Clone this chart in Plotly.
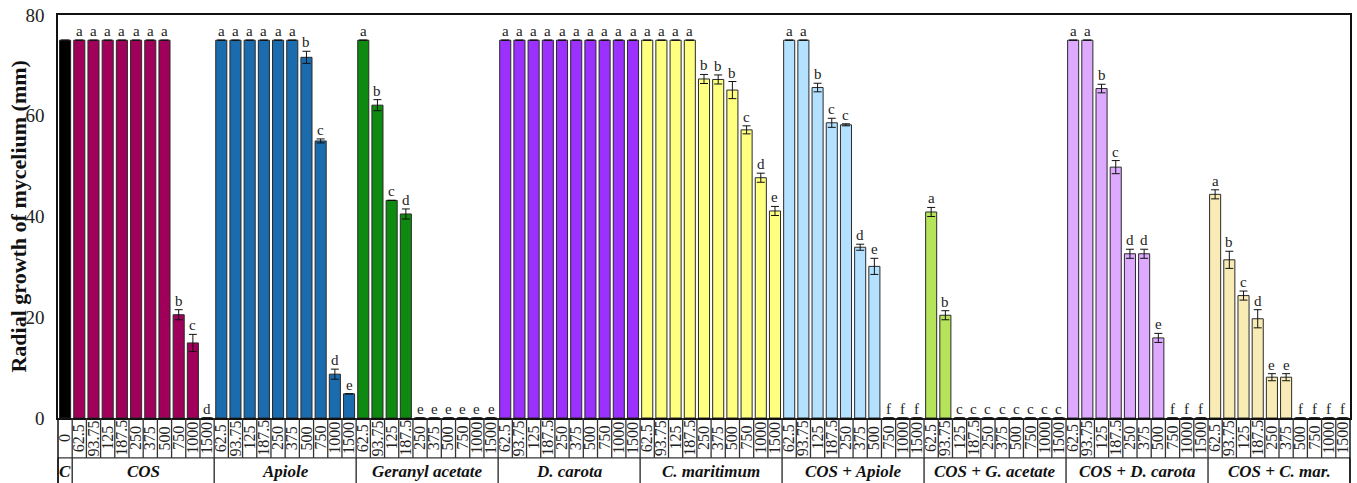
import plotly.graph_objects as go

# ---------------- data ----------------
concentrations = ["62.5", "93.75", "125", "187.5", "250", "375", "500", "750", "1000", "1500"]
groups = ["COS", "Apiole", "Geranyl acetate", "D. carota", "C. maritimum",
          "COS + Apiole", "COS + G. acetate", "COS + D. carota", "COS + C. mar."]
colors = ["#A0005A", "#1A6CAE", "#0F8A10", "#9B30FF", "#FFFF80",
          "#B3E1FF", "#B5E35A", "#DDAAFF", "#F8EBB5"]

control_label = "C"
control_tick = "0"
control_value = 75
control_err = 0
control_color = "#000000"

cos_vals = [75, 75, 75, 75, 75, 75, 75, 20.5, 14.9, 0]
cos_err = [0, 0, 0, 0, 0, 0, 0, 1.0, 1.7, 0]
cos_let = ["a", "a", "a", "a", "a", "a", "a", "b", "c", "d"]

apiole_vals = [75, 75, 75, 75, 75, 75, 71.6, 55.0, 8.7, 4.8]
apiole_err = [0, 0, 0, 0, 0, 0, 1.2, 0.4, 1.0, 0]
apiole_let = ["a", "a", "a", "a", "a", "a", "b", "c", "d", "e"]

geranyl_vals = [75, 62.1, 43.2, 40.5, 0, 0, 0, 0, 0, 0]
geranyl_err = [0, 1.1, 0, 1.0, 0, 0, 0, 0, 0, 0]
geranyl_let = ["a", "b", "c", "d", "e", "e", "e", "e", "e", "e"]

dcarota_vals = [75, 75, 75, 75, 75, 75, 75, 75, 75, 75]
dcarota_err = [0, 0, 0, 0, 0, 0, 0, 0, 0, 0]
dcarota_let = ["a", "a", "a", "a", "a", "a", "a", "a", "a", "a"]

cmar_vals = [75, 75, 75, 75, 67.3, 67.2, 65.1, 57.2, 47.7, 41.1]
cmar_err = [0, 0, 0, 0, 0.9, 0.9, 1.7, 0.8, 0.9, 0.9]
cmar_let = ["a", "a", "a", "a", "b", "b", "b", "c", "d", "e"]

cos_api_vals = [75, 75, 65.6, 58.6, 58.2, 33.9, 30.1, 0, 0, 0]
cos_api_err = [0, 0, 0.85, 0.9, 0.2, 0.6, 1.6, 0, 0, 0]
cos_api_let = ["a", "a", "b", "c", "c", "d", "e", "f", "f", "f"]

cos_ga_vals = [40.9, 20.4, 0, 0, 0, 0, 0, 0, 0, 0]
cos_ga_err = [0.9, 0.9, 0, 0, 0, 0, 0, 0, 0, 0]
cos_ga_let = ["a", "b", "c", "c", "c", "c", "c", "c", "c", "c"]

cos_dc_vals = [75, 75, 65.4, 49.8, 32.6, 32.6, 15.9, 0, 0, 0]
cos_dc_err = [0, 0, 0.85, 1.3, 0.9, 0.9, 0.9, 0, 0, 0]
cos_dc_let = ["a", "a", "b", "c", "d", "d", "e", "f", "f", "f"]

cos_cm_vals = [44.4, 31.4, 24.3, 19.7, 8.1, 8.1, 0, 0, 0, 0]
cos_cm_err = [0.9, 1.7, 0.9, 1.8, 0.7, 0.7, 0, 0, 0, 0]
cos_cm_let = ["a", "b", "c", "d", "e", "e", "f", "f", "f", "f"]

group_vals = [cos_vals, apiole_vals, geranyl_vals, dcarota_vals, cmar_vals,
              cos_api_vals, cos_ga_vals, cos_dc_vals, cos_cm_vals]
group_errs = [cos_err, apiole_err, geranyl_err, dcarota_err, cmar_err,
              cos_api_err, cos_ga_err, cos_dc_err, cos_cm_err]
group_lets = [cos_let, apiole_let, geranyl_let, dcarota_let, cmar_let,
              cos_api_let, cos_ga_let, cos_dc_let, cos_cm_let]

# ---------------- figure ----------------
SERIF = "Liberation Serif, Times New Roman, serif"
n_per = len(concentrations)
n_total = 1 + n_per * len(groups)

FIG_W, FIG_H = 1357, 483
M_L, M_R, M_T, M_B = 58, 5, 14, 65
plot_w = FIG_W - M_L - M_R
plot_h = FIG_H - M_T - M_B

fig = go.Figure()

err_style = dict(type="data", thickness=1, width=4, color="#111111")

fig.add_trace(go.Bar(
    x=[0], y=[control_value],
    error_y=dict(array=[control_err], **err_style),
    marker=dict(color=control_color, line=dict(color="#222222", width=1)),
    width=0.78, showlegend=False, hoverinfo="skip"))

annotations = []
for g, (name, vals, errs, lets, col) in enumerate(zip(groups, group_vals, group_errs, group_lets, colors)):
    xs = [1 + g * n_per + k for k in range(n_per)]
    fig.add_trace(go.Bar(
        x=xs, y=vals,
        error_y=dict(array=errs, **err_style),
        marker=dict(color=col, line=dict(color="#2a2a2a", width=1)),
        width=0.78, showlegend=False, name=name, hoverinfo="skip"))
    for x, v, e, l in zip(xs, vals, errs, lets):
        annotations.append(dict(x=x, y=v + e, xref="x", yref="y", text=l, showarrow=False,
                                yanchor="bottom", xanchor="center", yshift=-1,
                                font=dict(family=SERIF, size=15, color="#222222")))

row1 = 40 / plot_h
row2 = M_B / plot_h


def xp(pos):
    return (pos + 0.5) / n_total


# tick labels (rotated) in first row
tick_texts = [control_tick] + concentrations * len(groups)
for i, t in enumerate(tick_texts):
    annotations.append(dict(x=xp(i), y=-row1 / 2, xref="paper", yref="paper", text=t,
                            showarrow=False, textangle=-90, xanchor="center", yanchor="middle",
                            font=dict(family=SERIF, size=16, color="#222222")))

# group labels second row
ylab = -(row1 + row2) / 2 - 0.003
annotations.append(dict(x=xp(0), y=ylab, xref="paper", yref="paper",
                        text="<b><i>" + control_label + "</i></b>", showarrow=False,
                        xanchor="center", yanchor="middle",
                        font=dict(family=SERIF, size=17, color="#111111")))
for g, name in enumerate(groups):
    c = 1 + g * n_per + (n_per - 1) / 2
    annotations.append(dict(x=xp(c), y=ylab, xref="paper", yref="paper",
                            text="<b><i>" + name + "</i></b>", showarrow=False,
                            xanchor="center", yanchor="middle",
                            font=dict(family=SERIF, size=17, color="#111111")))

# y-axis title
annotations.append(dict(x=-40 / plot_w, y=0.5, xref="paper", yref="paper",
                        text="<b>Radial growth of mycelium (mm)</b>", showarrow=False,
                        textangle=-90, xanchor="center", yanchor="middle",
                        font=dict(family=SERIF, size=22, color="#111111")))

shapes = []
for i in range(1, n_total):
    shapes.append(dict(type="line", xref="paper", yref="paper", x0=i / n_total, x1=i / n_total,
                       y0=0, y1=-row1, line=dict(color="#333333", width=1.3)))
shapes.append(dict(type="line", xref="paper", yref="paper", x0=0, x1=1, y0=-row1, y1=-row1,
                   line=dict(color="#333333", width=1.3)))
bounds = [0, 1] + [1 + (g + 1) * n_per for g in range(len(groups))]
for b in bounds:
    shapes.append(dict(type="line", xref="paper", yref="paper", x0=b / n_total, x1=b / n_total,
                       y0=-row1, y1=-row2 - 0.05, line=dict(color="#222222", width=1.3)))
for b in [0, 1]:
    shapes.append(dict(type="line", xref="paper", yref="paper", x0=b, x1=b,
                       y0=0, y1=-row2 - 0.05, line=dict(color="#111111", width=1.5)))

fig.update_layout(
    width=FIG_W, height=FIG_H,
    margin=dict(l=M_L, r=M_R, t=M_T, b=M_B),
    paper_bgcolor="white", plot_bgcolor="white",
    barmode="overlay",
    showlegend=False,
    annotations=annotations,
    shapes=shapes,
    xaxis=dict(range=[-0.5, n_total - 0.5], showticklabels=False, ticks="",
               showgrid=False, zeroline=False, showline=True, mirror=True,
               linecolor="#111111", linewidth=1.5),
    yaxis=dict(range=[0, 80], tickvals=[0, 20, 40, 60, 80], ticks="",
               showgrid=False, zeroline=False, showline=True, mirror=True,
               linecolor="#111111", linewidth=1.5, ticklabelstandoff=8,
               tickfont=dict(family=SERIF, size=19, color="#222222")),
)

fig.write_html("out.html", config={"displayModeBar": False},
               post_script="document.body.style.margin='0px';document.body.style.overflow='hidden';")
